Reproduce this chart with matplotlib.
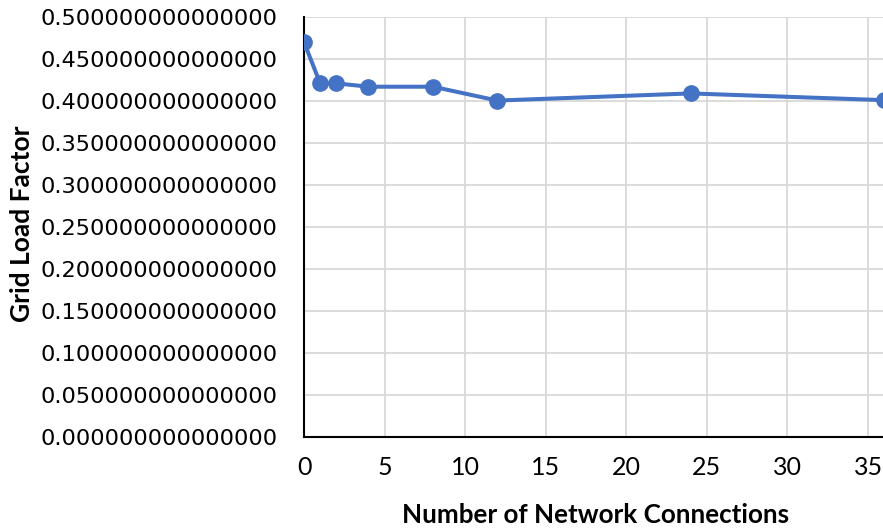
import matplotlib
matplotlib.use("Agg")
import matplotlib.pyplot as plt
from matplotlib.ticker import FormatStrFormatter

connections = [0, 1, 2, 4, 8, 12, 24, 36]
load_factor = [0.470, 0.421, 0.421, 0.417, 0.417, 0.4005, 0.409, 0.401]
x_ticks = [0, 5, 10, 15, 20, 25, 30, 35]
y_ticks = [0.0, 0.05, 0.10, 0.15, 0.20, 0.25, 0.30, 0.35, 0.40, 0.45, 0.50]

fig = plt.figure(figsize=(8.83, 5.29), dpi=100)
ax = fig.add_axes([0.3443, 0.1739, 0.657, 0.794])

ax.plot(connections, load_factor, color="#4472C4", linewidth=2.9,
        marker="o", markersize=11, zorder=3, clip_on=True)

ax.set_xlim(0, 36)
ax.set_ylim(0, 0.5)
ax.set_xticks(x_ticks)
ax.set_yticks(y_ticks)
ax.yaxis.set_major_formatter(FormatStrFormatter("%.15f"))

ax.grid(True, color="#d9d9d9", linewidth=1.3)
ax.set_axisbelow(True)
for side in ("top", "right"):
    ax.spines[side].set_visible(False)
for side in ("left", "bottom"):
    ax.spines[side].set_color("black")
    ax.spines[side].set_linewidth(1.5)

ax.tick_params(axis="both", length=0)
ax.tick_params(axis="y", pad=19)
ax.tick_params(axis="x", pad=14)
for lbl in ax.get_yticklabels():
    lbl.set_fontfamily("DejaVu Sans")
    lbl.set_fontsize(16.2)
for lbl in ax.get_xticklabels():
    lbl.set_fontfamily("Lato")
    lbl.set_fontsize(18)

fig.text(0.025, 0.577, "Grid Load Factor", rotation=90, ha="center", va="center",
         fontsize=19, fontweight="bold", family="Lato")
fig.text(0.674, 0.027, "Number of Network Connections", ha="center", va="center",
         fontsize=18.7, fontweight="bold", family="Lato")

fig.savefig("out.png", dpi=100)
